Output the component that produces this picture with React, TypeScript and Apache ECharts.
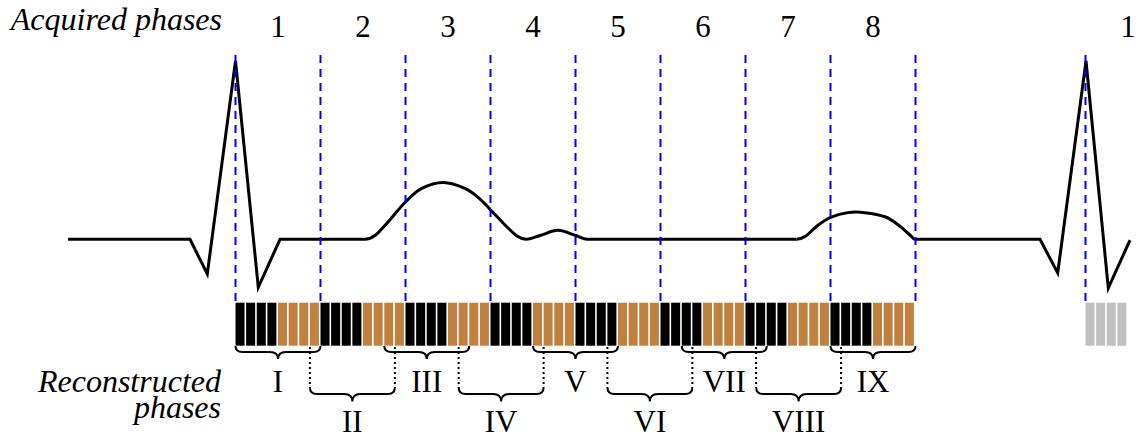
import React, { useEffect, useRef } from "react";
import * as echarts from "echarts";

// ---- Data (time in ms from the R peak, amplitude in mV) ----
const ecgQRS1: [number, number][] = [
  [-197, 0], [-53.5, 0], [-33.2, -0.194], [0, 0.996], [26.8, -0.268], [52.4, 0], [152.4, 0],
];
const ecgTWave: [number, number][] = [
  [152.4, 0], [164.1, 0.021], [179.4, 0.097], [200.2, 0.21], [219.1, 0.285], [244.5, 0.318],
  [270.0, 0.284], [287.6, 0.225], [300.2, 0.164], [317.1, 0.08], [331.2, 0.018], [341.8, 0],
];
const ecgUWave: [number, number][] = [
  [341.8, 0], [358.2, 0.021], [379.4, 0.05], [400.2, 0.021], [413.5, 0],
];
const ecgBaseline: [number, number][] = [[413.5, 0], [660.2, 0]];
const ecgPWave: [number, number][] = [
  [660.2, 0], [670.0, 0.015], [685.6, 0.08], [700.2, 0.123], [720.6, 0.149], [740.6, 0.149],
  [764.1, 0.126], [779.8, 0.08], [793.5, 0.024], [799.4, 0],
];
const ecgQRS2: [number, number][] = [
  [799.4, 0], [946.5, 0], [967.3, -0.188], [1000.6, 0.996], [1026.8, -0.272], [1052.4, -0.004],
];

const acquiredPhaseLabels = ["1", "2", "3", "4", "5", "6", "7", "8", "1"];
const acquiredPhaseCenters = [50, 150, 250, 350, 450, 550, 650, 750, 1050];
const acquiredBoundaries = [0, 100, 200, 300, 400, 500, 600, 700, 800, 1000];

const FRAME_MS = 12.5;
// K = black frame, B = brown frame (64 frames over 8 phases)
const frameKinds =
  "KKKKBBBB" + "KKKKBBBB" + "KKKKBBBB" + "KKKKBBBB" +
  "KKKKBBBB" + "KKKKBBBB" + "KKKKBBBB" + "KKKKBBBB";
const discardedFrameStarts = [1000, 1012.5, 1025, 1037.5];

const reconLabels = ["I", "II", "III", "IV", "V", "VI", "VII", "VIII", "IX"];
const reconStartFrames = [0, 7, 14, 21, 28, 35, 42, 49, 56];
const reconRows = [0, 1, 0, 1, 0, 1, 0, 1, 0];
const RECON_FRAMES = 8;

// ---- Layout constants ----
const W = 1137;
const H = 439;
const X_MIN = -277.06;
const X_MAX = 1060.59;
const Y_MIN = -1.1156;
const Y_MAX = 1.3369;
const BAR_TOP = 302.7;
const BAR_BOTTOM = 345.7;
const DASH_TOP = 55;
const FONT = "Liberation Serif";
const FS = 31;
const FS_ITALIC = 32;
const BROWN = "#bf8040";
const GREY = "#c0c0c0";

function bracePath(x0: number, x1: number, yTop: number, yLine: number, yTip: number) {
  const r = 7;
  const m = 8;
  const xm = (x0 + x1) / 2;
  return (
    `M${x0},${yTop} Q${x0},${yLine} ${x0 + r},${yLine} L${xm - m},${yLine} ` +
    `Q${xm},${yLine} ${xm},${yTip} Q${xm},${yLine} ${xm + m},${yLine} ` +
    `L${x1 - r},${yLine} Q${x1},${yLine} ${x1},${yTop}`
  );
}

// Catmull-Rom curve through the (already projected) points, flat at both ends
function curvePath(pts: number[][]) {
  const n = pts.length;
  const tan = pts.map((p, i) => {
    if (i === 0) return [pts[1][0] - p[0], 0];
    if (i === n - 1) return [p[0] - pts[n - 2][0], 0];
    return [(pts[i + 1][0] - pts[i - 1][0]) / 2, (pts[i + 1][1] - pts[i - 1][1]) / 2];
  });
  let d = `M${pts[0][0]},${pts[0][1]}`;
  for (let i = 0; i < n - 1; i++) {
    const c1 = [pts[i][0] + tan[i][0] / 3, pts[i][1] + tan[i][1] / 3];
    const c2 = [pts[i + 1][0] - tan[i + 1][0] / 3, pts[i + 1][1] - tan[i + 1][1] / 3];
    d += ` C${c1[0]},${c1[1]} ${c2[0]},${c2[1]} ${pts[i + 1][0]},${pts[i + 1][1]}`;
  }
  return d;
}

const textStyle = (text: string, align: string, italic = false, extra: any = {}) => ({
  text,
  fill: "#000",
  fontSize: italic ? FS_ITALIC : FS,
  fontFamily: FONT,
  fontStyle: italic ? "italic" : "normal",
  align,
  verticalAlign: "middle",
  textAlign: align,
  textVerticalAlign: "middle",
  ...extra,
});

export default function App() {
  const ref = useRef<HTMLDivElement>(null);

  useEffect(() => {
    if (!ref.current) return;
    const chart = echarts.init(ref.current, undefined, { renderer: "svg" });

    const ecgLine = (data: [number, number][]) => ({
      type: "line",
      data,
      symbol: "none",
      z: 2,
      lineStyle: { color: "#000", width: 3, join: "miter", cap: "butt" },
      silent: true,
    });

    const waves = [ecgTWave, ecgUWave, ecgPWave];

    const frameData: any[] = [];
    for (let i = 0; i < frameKinds.length; i++) {
      frameData.push([i * FRAME_MS, frameKinds[i] === "K" ? 0 : 1]);
    }
    discardedFrameStarts.forEach((t) => frameData.push([t, 2]));
    const frameColors = ["#000000", BROWN, GREY];

    const braceData = reconLabels.map((_, i) => [
      reconStartFrames[i] * FRAME_MS,
      (reconStartFrames[i] + RECON_FRAMES) * FRAME_MS,
      reconRows[i],
    ]);

    const option: any = {
      animation: false,
      grid: { left: 0, right: 0, top: 0, bottom: 0, containLabel: false },
      xAxis: { type: "value", min: X_MIN, max: X_MAX, show: false },
      yAxis: { type: "value", min: Y_MIN, max: Y_MAX, show: false },
      series: [
        ecgLine(ecgQRS1),
        ecgLine(ecgBaseline),
        ecgLine(ecgQRS2),
        {
          type: "custom",
          z: 2,
          silent: true,
          data: waves.map((w, i) => [w[0][0], w[0][1], i]),
          renderItem: (_p: any, api: any) => {
            const wave = waves[api.value(2)];
            const pts = wave.map((p) => api.coord(p));
            return {
              type: "path",
              shape: { pathData: curvePath(pts) },
              style: { fill: "none", stroke: "#000", lineWidth: 3 },
            };
          },
        },
        {
          type: "custom",
          z: 3,
          silent: true,
          data: acquiredBoundaries.map((t) => [t, 0]),
          renderItem: (_p: any, api: any) => {
            const x = api.coord([api.value(0), 0])[0];
            return {
              type: "line",
              shape: { x1: x, y1: DASH_TOP, x2: x, y2: BAR_TOP },
              style: { stroke: "#0000ff", lineWidth: 2, lineDash: [8, 6] },
            };
          },
        },
        {
          type: "custom",
          z: 4,
          silent: true,
          data: frameData,
          renderItem: (_p: any, api: any) => {
            const t = api.value(0);
            const xs = api.coord([t, 0])[0];
            const xe = api.coord([t + FRAME_MS, 0])[0];
            return {
              type: "rect",
              shape: { x: xs, y: BAR_TOP, width: xe - xs - 1.6, height: BAR_BOTTOM - BAR_TOP },
              style: { fill: frameColors[api.value(1)] },
            };
          },
        },
        {
          type: "custom",
          z: 5,
          silent: true,
          data: braceData,
          renderItem: (p: any, api: any) => {
            const x0 = api.coord([api.value(0), 0])[0];
            const x1 = api.coord([api.value(1), 0])[0];
            const row = api.value(2);
            const yTop = row === 0 ? 346 : 387;
            const yLine = row === 0 ? 352 : 394;
            const yTip = row === 0 ? 359 : 401.5;
            const children: any[] = [
              {
                type: "path",
                shape: { pathData: bracePath(x0, x1, yTop, yLine, yTip) },
                style: { fill: "none", stroke: "#000", lineWidth: 2 },
              },
              {
                type: "text",
                x: (x0 + x1) / 2,
                y: row === 0 ? 381.5 : 421.5,
                style: textStyle(reconLabels[p.dataIndex], "center", false, { lineHeight: 24 }),
              },
            ];
            if (row === 1) {
              [x0, x1].forEach((x) =>
                children.push({
                  type: "line",
                  shape: { x1: x, y1: 347, x2: x, y2: 387 },
                  style: { stroke: "#000", lineWidth: 2, lineDash: [2, 3] },
                })
              );
            }
            return { type: "group", children };
          },
        },
        {
          type: "custom",
          z: 5,
          silent: true,
          data: acquiredPhaseCenters.map((t) => [t, 0]),
          renderItem: (p: any, api: any) => {
            const x = api.coord([api.value(0), 0])[0];
            return {
              type: "text",
              x,
              y: 26.5,
              style: textStyle(acquiredPhaseLabels[p.dataIndex], "center"),
            };
          },
        },
      ],
      graphic: [
        {
          type: "text",
          x: 222,
          y: 18.5,
          style: textStyle("Acquired phases", "right", true),
        },
        {
          type: "text",
          x: 221,
          y: 394,
          style: textStyle("Reconstructed\nphases", "right", true, { lineHeight: 26 }),
        },
      ],
    };

    chart.setOption(option);
    return () => chart.dispose();
  }, []);

  return (
    <div
      ref={ref}
      style={{ position: "fixed", left: 0, top: 0, width: W, height: H, background: "#fff" }}
    />
  );
}
